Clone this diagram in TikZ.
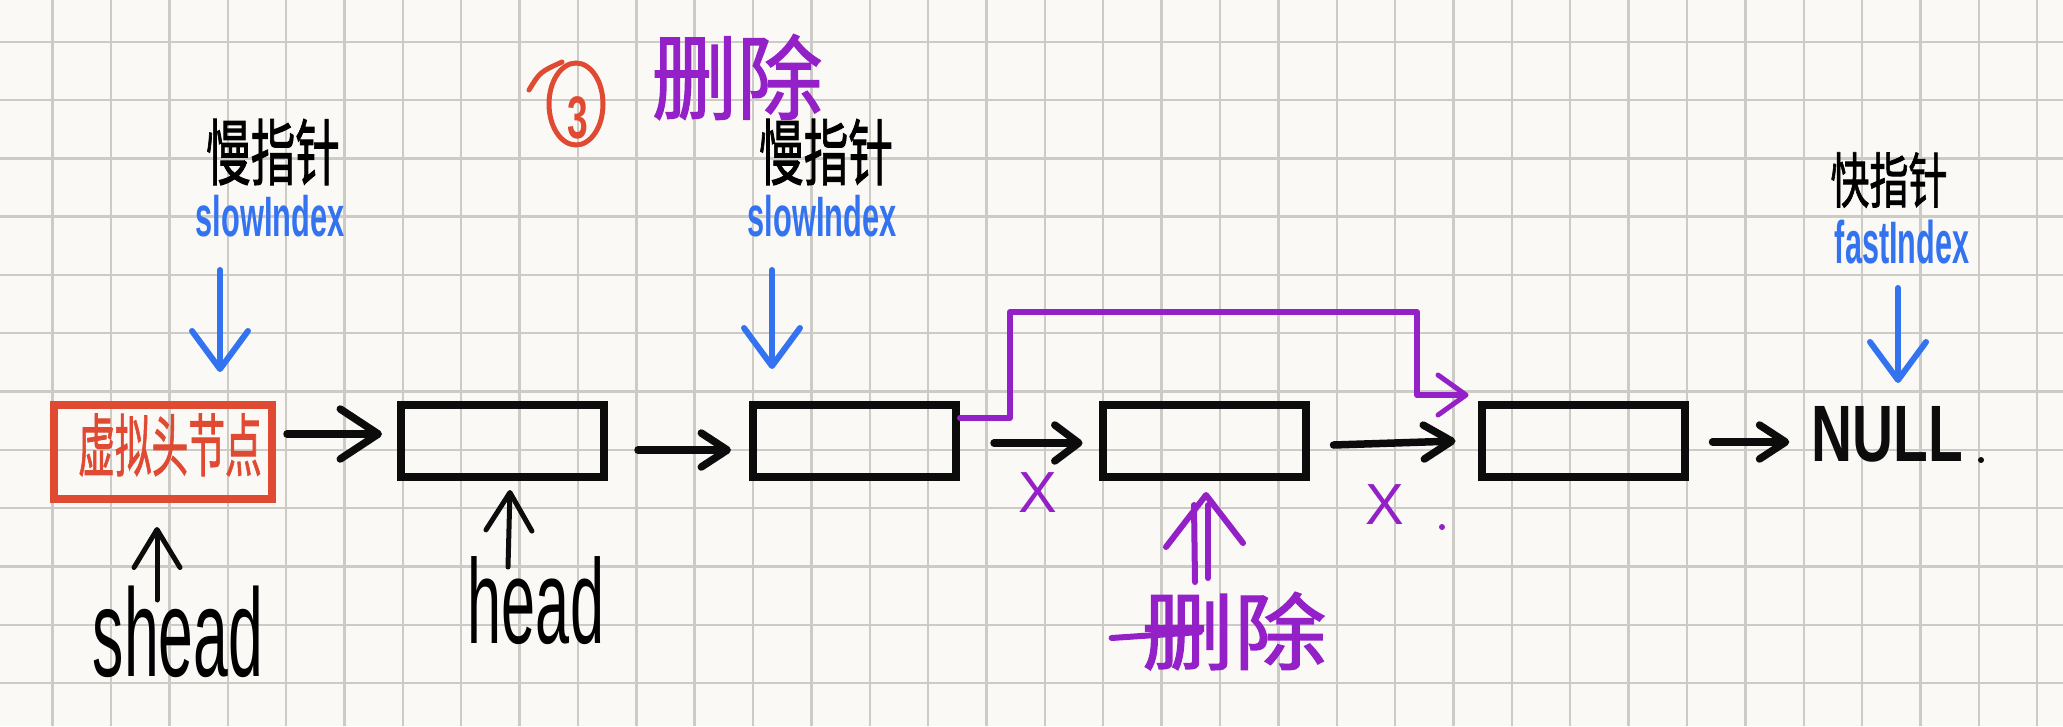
\documentclass[tikz,border=0pt]{standalone}
\usepackage{fontspec}
\setmainfont{Liberation Sans}
\newfontfamily\cjk[FakeBold=1.5]{Noto Sans CJK SC}
\usetikzlibrary{arrows.meta,calc,shapes.geometric}
\definecolor{bgc}{RGB}{250,249,245}
\definecolor{gridc}{RGB}{205,203,197}
\definecolor{ink}{RGB}{12,12,12}
\definecolor{redc}{RGB}{224,74,50}
\definecolor{bluec}{RGB}{52,115,240}
\definecolor{purc}{RGB}{148,32,200}
\newcommand{\fsz}[1]{\fontsize{#1}{#1}\selectfont}
\begin{document}
\begin{tikzpicture}[x=1pt,y=-1pt,
  gridl/.style={draw=gridc, line width=2.4pt},
  nodebox/.style={draw=ink, line width=8pt, minimum width=203pt, minimum height=72pt, inner sep=0pt},
  dummybox/.style={draw=redc, line width=8pt, minimum width=218pt, minimum height=94pt, inner sep=0pt},
  lbl/.style={inner sep=0pt, outer sep=0pt},
  blkarr/.style={draw=ink, line width=7.5pt, line cap=round, line join=round},
  bluearr/.style={draw=bluec, line width=6pt, line cap=round, line join=round, -{Straight Barb[length=38pt,width=56pt,line width=6pt,round]}},
  uparr/.style={draw=ink, line width=5pt, line cap=round, line join=round, -{Straight Barb[length=38pt,width=46pt,line width=5pt,round]}},
  purline/.style={draw=purc, line width=6pt, line cap=round, line join=round}
]
\useasboundingbox (0,0) rectangle (2063,726);
\fill[bgc] (0,0) rectangle (2063,726);
\foreach \i in {0,...,34} \draw[gridl] ({52.6+58.37*\i},0) -- ++(0,726);
\foreach \j in {0,...,11} \draw[gridl] (0,{41.7+58.3*\j}) -- ++(2063,0);

% boxes
\node[dummybox] (dummy) at (163,452) {};
\node[lbl, text=redc] (dummyt) at (170,445) {\scalebox{0.54}[1]{\cjk\fsz{68}虚拟头节点}};
\node[nodebox] (b1) at (502.5,441) {};
\node[nodebox] (b2) at (854.5,441) {};
\node[nodebox] (b3) at (1204,441) {};
\node[nodebox] (b4) at (1583,441) {};
\node[lbl, text=ink] (null) at (1887,434) {\scalebox{0.71}[1]{\bfseries\fsz{80}NULL}};
\node[lbl, circle, fill=ink, minimum size=6pt] (nulldot) at (1981,460) {};

% top labels
\node[lbl] (sl1) at (273,152) {\scalebox{0.62}[1]{\cjk\fsz{72}慢指针}};
\node[lbl, text=bluec] (si1) at (270,216) {\scalebox{0.54}[1]{\bfseries\fsz{57}slowIndex}};
\node[lbl] (sl2) at (826,152) {\scalebox{0.62}[1]{\cjk\fsz{72}慢指针}};
\node[lbl, text=bluec] (si2) at (822,216) {\scalebox{0.54}[1]{\bfseries\fsz{57}slowIndex}};
\node[lbl] (fl) at (1889,180) {\scalebox{0.65}[1]{\cjk\fsz{60}快指针}};
\node[lbl, text=bluec] (fi) at (1902,242) {\scalebox{0.51}[1]{\bfseries\fsz{60}fastIndex}};

% step marker
\node[draw=redc, ellipse, line width=5pt, minimum width=54pt, minimum height=82pt, inner sep=0pt] (three) at (576,104) {};
\node[lbl, text=redc] (threet) at (578,118) {\scalebox{0.62}[1]{\bfseries\fsz{60}3}};
\draw[draw=redc, line width=5pt, line cap=round] (529,90) .. controls (540,72) .. (562,62);
\node[lbl, text=purc] (deltop) at (737,77) {\scalebox{0.93}[1]{\cjk\fsz{92}删除}};

% pointer arrows
\coordinate (p1s) at (220,270); \coordinate (p1e) at (220,372);
\coordinate (p2s) at (772,270); \coordinate (p2e) at (772,369);
\coordinate (p3s) at (1898,288); \coordinate (p3e) at (1898,383);
\draw[bluearr] (p1s) -- (p1e);
\draw[bluearr] (p2s) -- (p2e);
\draw[bluearr] (p3s) -- (p3e);

% bottom labels
\node[lbl] (shead) at (178,632) {\scalebox{0.5}[1]{\fsz{125}shead}};
\node[lbl] (head) at (536,601) {\scalebox{0.51}[1]{\fsz{120}head}};
\coordinate (u1s) at (157,600); \coordinate (u1e) at (157,527);
\coordinate (u2s) at (508,567); \coordinate (u2e) at (510,490);
\draw[uparr] (u1s) -- (u1e);
\draw[uparr] (u2s) -- (u2e);

% list arrows
\draw[blkarr, -{Straight Barb[length=38pt,width=50pt,line width=7.5pt,round]}]
  ([xshift=11pt,yshift=18pt]dummy.east) -- ([xshift=-15pt,yshift=7pt]b1.west);
\draw[blkarr, -{Straight Barb[length=26pt,width=34pt,line width=7.5pt,round]}]
  ([xshift=30pt,yshift=-9pt]b1.east) -- ([xshift=-18pt,yshift=-9pt]b2.west);
\draw[blkarr, -{Straight Barb[length=24pt,width=36pt,line width=7.5pt,round]}]
  ([xshift=34pt,yshift=-2pt]b2.east) -- ([xshift=-16pt,yshift=-2pt]b3.west);
\draw[blkarr, -{Straight Barb[length=28pt,width=34pt,line width=7.5pt,round]}]
  ([xshift=24pt,yshift=-4pt]b3.east) -- ([xshift=-22pt,yshift=0pt]b4.west);
\draw[blkarr, -{Straight Barb[length=26pt,width=34pt,line width=7.5pt,round]}]
  ([xshift=24pt,yshift=-1pt]b4.east) -- ([xshift=-22pt,yshift=-8pt]null.west);

% bypass
\coordinate (byA) at (1010,312);
\coordinate (byB) at (1417,312);
\draw[purline, -{Straight Barb[length=28pt,width=40pt,line width=5pt,round]}]
  ([yshift=23pt]b2.east) -| (byA) -- (byB) |- ([xshift=-9pt,yshift=6pt]b4.north west);

% crosses
\node[lbl, text=purc] (x1) at (1038,493) {\fsz{58}X};
\node[lbl, text=purc] (x2) at (1385,505) {\fsz{58}X};
\node[lbl, circle, fill=purc, minimum size=6pt] (x2dot) at (1442,527) {};

% deleted marker
\node[lbl, text=purc] (delb) at (1234,631) {\scalebox{1.1}[1]{\cjk\fsz{84}删除}};
\draw[purline] ([xshift=-30pt,yshift=-7pt]delb.west) -- ([xshift=-34pt,yshift=-1pt]delb.center);
\coordinate (dtip) at (1206,495);
\draw[purline] ($(delb.north)+(-39,-10)$) -- ($(dtip)+(-12,10)$);
\draw[purline] ($(delb.north)+(-26,-14)$) -- ($(dtip)+(2,10)$);
\draw[purline] ($(dtip)+(-40,52)$) -- (dtip) -- ($(dtip)+(37,48)$);
\end{tikzpicture}
\end{document}
